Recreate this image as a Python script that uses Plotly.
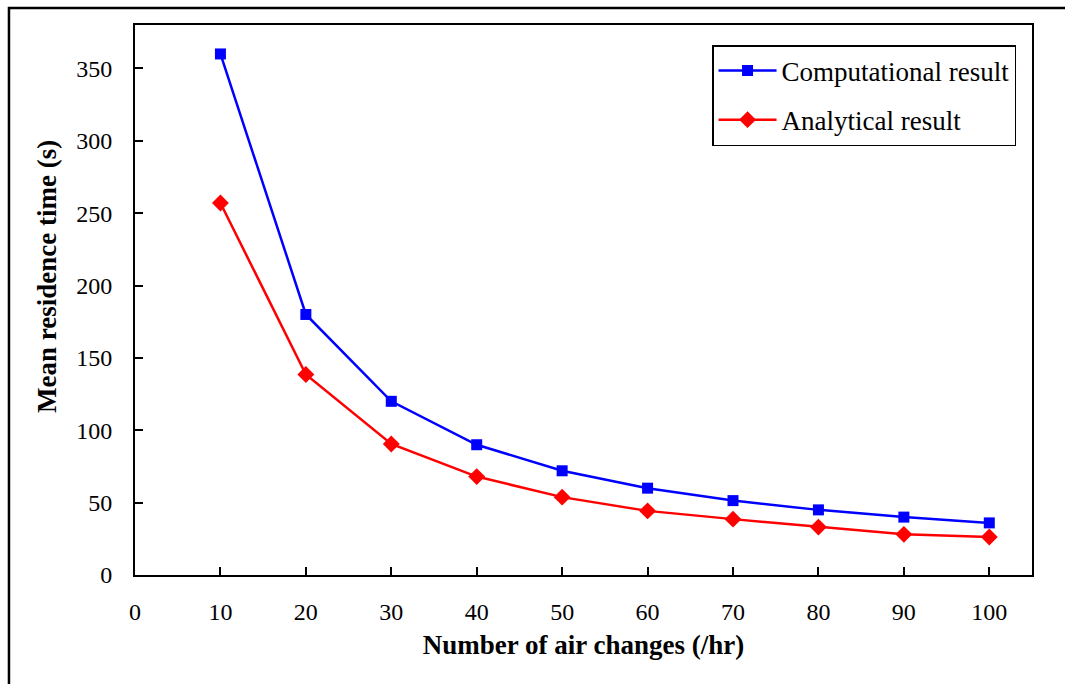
import plotly.graph_objects as go

# Air changes per hour and mean residence time (s)
air_changes = [10, 20, 30, 40, 50, 60, 70, 80, 90, 100]
computational = [360, 180, 120, 90, 72, 60, 51.4, 45, 40, 36]
analytical = [257, 138.5, 90.5, 68, 53.8, 44.3, 38.6, 33.1, 28.1, 26.3]

x_ticks = [0, 10, 20, 30, 40, 50, 60, 70, 80, 90, 100]
y_ticks = [0, 50, 100, 150, 200, 250, 300, 350]

FONT = "Liberation Serif, Times New Roman, serif"

fig = go.Figure()
fig.add_trace(go.Scatter(
    x=air_changes, y=computational, name="Computational result",
    mode="lines+markers", legendgroup="a",
    line=dict(color="#0000FF", width=2.5),
    marker=dict(symbol="square", size=11, color="#0000FF"),
))
fig.add_trace(go.Scatter(
    x=air_changes, y=analytical, name="Analytical result",
    mode="lines+markers", legendgroup="b",
    line=dict(color="#FF0000", width=2.5),
    marker=dict(symbol="diamond", size=13, color="#FF0000"),
))

axis_common = dict(
    showline=True, linecolor="black", linewidth=2, mirror=True,
    ticks="inside", ticklen=8, tickwidth=1.5, tickcolor="black",
    showgrid=False, zeroline=False,
    tickfont=dict(family=FONT, size=24, color="black"),
)

fig.update_xaxes(
    range=[0, 105], tickvals=x_ticks, ticklabelstandoff=14,
    title=dict(text="<b>Number of air changes (/hr)</b>",
               font=dict(family=FONT, size=27, color="black"), standoff=11),
    **axis_common,
)
fig.update_yaxes(
    range=[0, 380], tickvals=y_ticks, ticklabelstandoff=16,
    **axis_common,
)

# y-axis title, set a little above the plot's vertical centre
fig.add_annotation(
    text="<b>Mean residence time (s)</b>", textangle=-90,
    xref="paper", yref="paper", x=-0.0981, y=0.5418,
    xanchor="center", yanchor="middle", showarrow=False,
    font=dict(family=FONT, size=27, color="black"),
)

# outer frame around the chart, running off the right and bottom edges
fig.add_shape(type="rect", xref="paper", yref="paper",
              x0=-0.1405, y0=-0.3, x1=1.2, y1=1.031,
              line=dict(color="black", width=2.5), layer="below")

fig.update_layout(
    width=1065, height=684,
    margin=dict(l=135, r=33, t=25, b=109),
    plot_bgcolor="white", paper_bgcolor="white",
    font=dict(family=FONT, size=24, color="black"),
    legend=dict(
        x=0.6433, y=0.9636, xanchor="left", yanchor="top",
        bordercolor="black", borderwidth=1.5, bgcolor="white",
        font=dict(family=FONT, size=27, color="black"),
        traceorder="grouped", tracegroupgap=11, itemwidth=58,
    ),
    showlegend=True,
)

fig.write_html("out.html")
